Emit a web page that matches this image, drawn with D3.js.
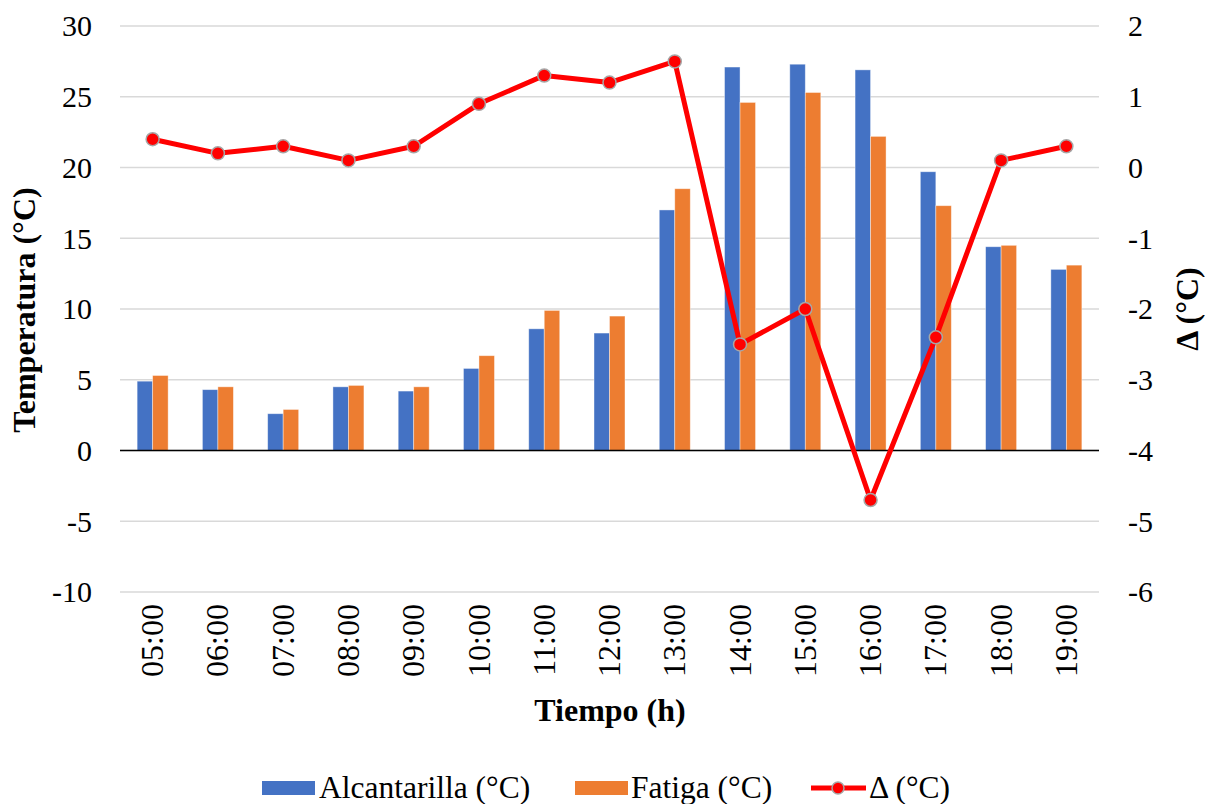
<!DOCTYPE html>
<html><head><meta charset="utf-8">
<script src="https://cdn.jsdelivr.net/npm/d3@7"></script>
<style>body{margin:0;background:#fff}</style>
</head><body><svg id="c" width="1205" height="804"></svg>
<script>
const categories = ["05:00","06:00","07:00","08:00","09:00","10:00","11:00","12:00","13:00","14:00","15:00","16:00","17:00","18:00","19:00"];
const alcantarilla = [4.9,4.3,2.6,4.5,4.2,5.8,8.6,8.3,17.0,27.1,27.3,26.9,19.7,14.4,12.8];
const fatiga = [5.3,4.5,2.9,4.6,4.5,6.7,9.9,9.5,18.5,24.6,25.3,22.2,17.3,14.5,13.1];
const delta = [0.4,0.2,0.3,0.1,0.3,0.9,1.3,1.2,1.5,-2.5,-2.0,-4.7,-2.4,0.1,0.3];
const leftTicks = [-10,-5,0,5,10,15,20,25,30];
const rightTicks = [-6,-5,-4,-3,-2,-1,0,1,2];

const FONT = "'Liberation Serif', 'Times New Roman', serif";
const svg = d3.select("#c");
const L = 120, R = 1099, T = 26, B = 592;
const x = d3.scaleBand().domain(categories).range([L, R]).paddingInner(0).paddingOuter(0);
const yL = d3.scaleLinear().domain([-10, 30]).range([B, T]);
const yR = d3.scaleLinear().domain([-6, 2]).range([B, T]);
const bw = 15.5;
const fs = 30;

// gridlines
svg.append("g").selectAll("line").data(leftTicks).join("line")
  .attr("x1", L).attr("x2", R).attr("y1", d => yL(d)).attr("y2", d => yL(d))
  .attr("stroke", "#d9d9d9").attr("stroke-width", 1.5);

// bars
const g = svg.append("g");
g.selectAll(".a").data(alcantarilla).join("rect")
  .attr("x", (d,i) => x(categories[i]) + x.bandwidth()/2 - bw)
  .attr("width", bw)
  .attr("y", d => yL(Math.max(0,d))).attr("height", d => Math.abs(yL(d) - yL(0)))
  .attr("fill", "#4472c4").attr("stroke", "#fff").attr("stroke-opacity",0.5).attr("stroke-width", 0.8);
g.selectAll(".f").data(fatiga).join("rect")
  .attr("x", (d,i) => x(categories[i]) + x.bandwidth()/2)
  .attr("width", bw)
  .attr("y", d => yL(Math.max(0,d))).attr("height", d => Math.abs(yL(d) - yL(0)))
  .attr("fill", "#ed7d31").attr("stroke", "#fff").attr("stroke-opacity",0.5).attr("stroke-width", 0.8);
// zero line
svg.append("line").attr("x1", L).attr("x2", R).attr("y1", yL(0)).attr("y2", yL(0)).attr("stroke","#000").attr("stroke-width",1.5);

// line
const line = d3.line().x((d,i) => x(categories[i]) + x.bandwidth()/2).y(d => yR(d));
svg.append("path").datum(delta).attr("d", line).attr("fill","none").attr("stroke","#ff0000").attr("stroke-width",5).attr("stroke-linejoin","round");
svg.append("g").selectAll("circle").data(delta).join("circle")
  .attr("cx", (d,i) => x(categories[i]) + x.bandwidth()/2).attr("cy", d => yR(d)).attr("r", 6.5)
  .attr("fill","#ff0000").attr("stroke","#a6a6a6").attr("stroke-width",1.5);

// axes
const minus = d => d < 0 ? "-" + Math.abs(d) : String(d);
const axL = svg.append("g").attr("transform", `translate(${L},0)`).call(d3.axisLeft(yL).tickValues(leftTicks).tickSize(0).tickPadding(28).tickFormat(minus));
const axR = svg.append("g").attr("transform", `translate(${R},0)`).call(d3.axisRight(yR).tickValues(rightTicks).tickSize(0).tickPadding(29).tickFormat(minus));
const axB = svg.append("g").attr("transform", `translate(0,${B})`).call(d3.axisBottom(x).tickSize(0));
[axL, axR, axB].forEach(a => { a.select(".domain").remove(); a.attr("font-family", FONT); });
axL.selectAll("text").style("font-family", FONT).style("font-size", fs+"px").attr("fill","#000").attr("dy","0.33em");
axR.selectAll("text").style("font-family", FONT).style("font-size", fs+"px").attr("fill","#000").attr("dy","0.33em");
axB.selectAll("text").style("font-family", FONT).style("font-size", "32px").attr("fill","#000")
  .attr("transform","rotate(-90)").attr("text-anchor","end").attr("x", -12).attr("y", 0).attr("dy","0.33em");

// titles
function txt(sel){ return sel.style("font-family", FONT).attr("fill","#000"); }
txt(svg.append("text")).attr("transform", "translate(35,310) rotate(-90)").attr("text-anchor","middle")
  .style("font-size", "32px").attr("font-weight","bold").text("Temperatura (°C)");
txt(svg.append("text")).attr("transform", "translate(1198,309) rotate(-90)").attr("text-anchor","middle")
  .style("font-size", "32px").attr("font-weight","bold").text("Δ (°C)");
txt(svg.append("text")).attr("x", 610).attr("y", 721).attr("text-anchor","middle")
  .style("font-size", "32px").attr("font-weight","bold").text("Tiempo (h)");

// legend
const lg = svg.append("g");
const ly = 788;
lg.append("rect").attr("x",262).attr("y",ly-7).attr("width",53).attr("height",14).attr("fill","#4472c4");
txt(lg.append("text")).attr("x",319).attr("y",ly).attr("dy","0.33em").style("font-size","31.5px").text("Alcantarilla (°C)");
lg.append("rect").attr("x",575).attr("y",ly-7).attr("width",53).attr("height",14).attr("fill","#ed7d31");
txt(lg.append("text")).attr("x",631).attr("y",ly).attr("dy","0.33em").style("font-size","31.5px").text("Fatiga (°C)");
lg.append("line").attr("x1",811).attr("x2",866).attr("y1",ly).attr("y2",ly).attr("stroke","#ff0000").attr("stroke-width",5);
lg.append("circle").attr("cx",838).attr("cy",ly).attr("r",6).attr("fill","#ff0000").attr("stroke","#a6a6a6").attr("stroke-width",1.5);
txt(lg.append("text")).attr("x",869).attr("y",ly).attr("dy","0.33em").style("font-size","31.5px").text("Δ (°C)");
</script></body></html>
